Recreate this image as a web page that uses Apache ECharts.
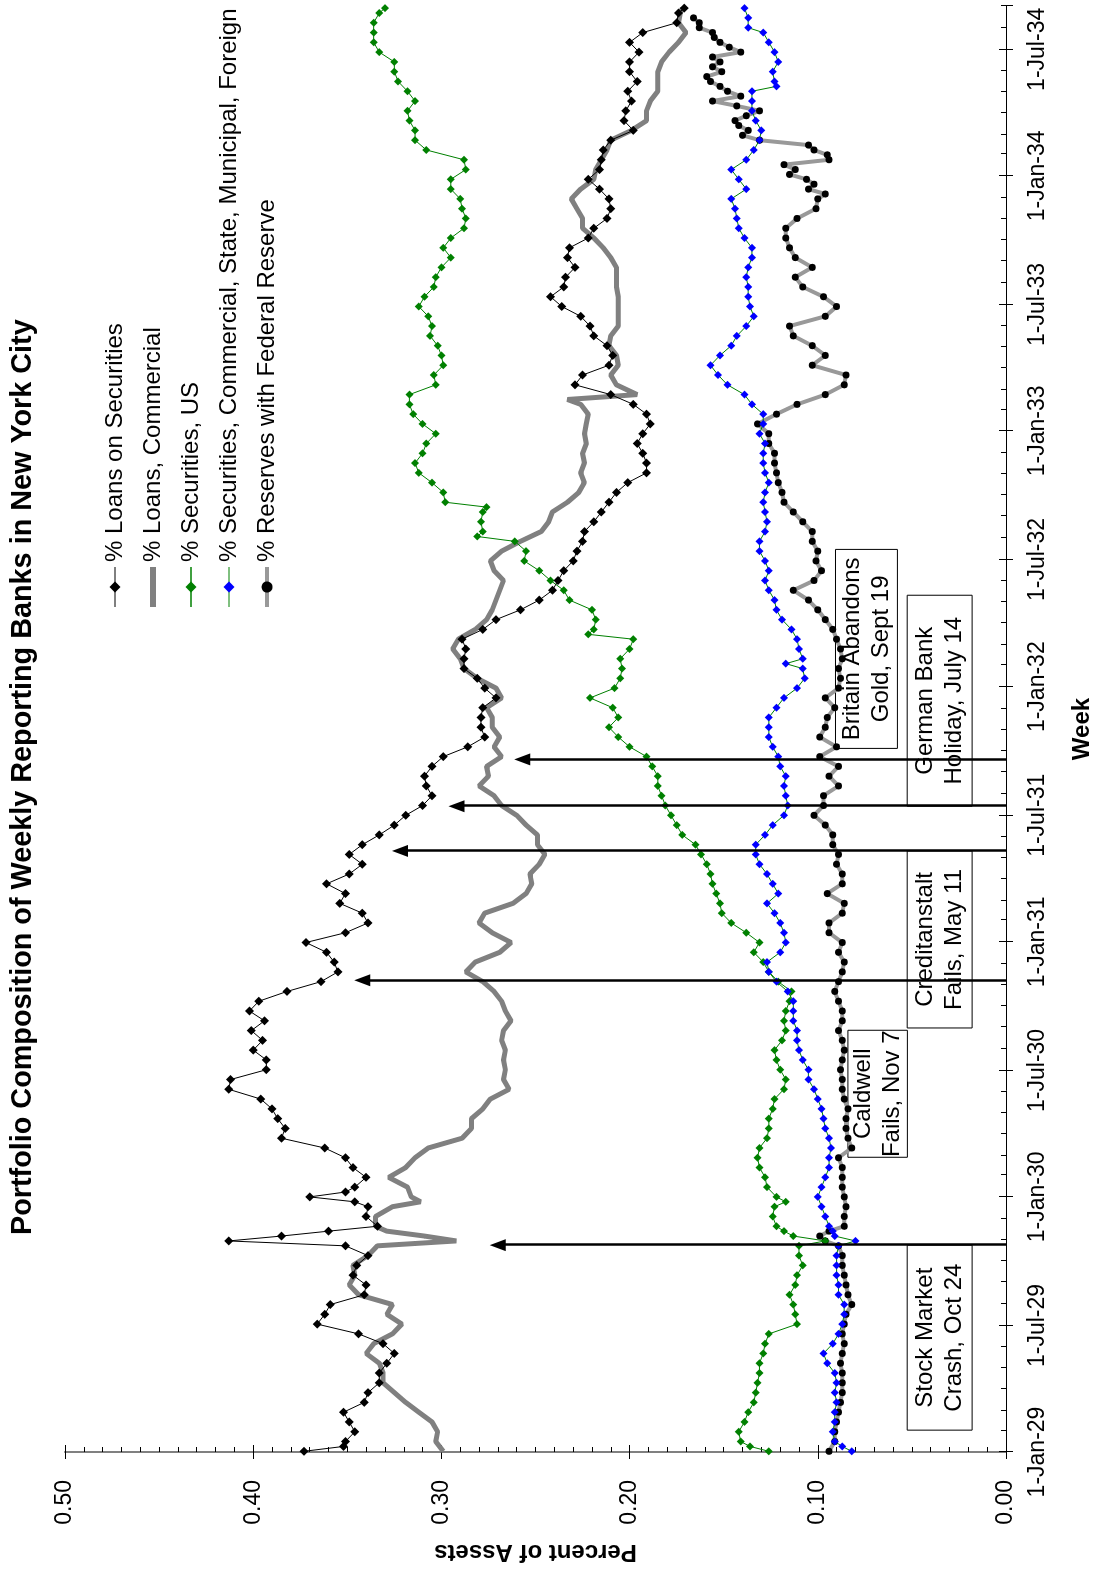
<!DOCTYPE html>
<html>
<head>
<meta charset="utf-8">
<script src="https://cdn.jsdelivr.net/npm/echarts@6/dist/echarts.min.js"></script>
<style>
html,body{margin:0;padding:0;background:#fff;overflow:hidden;}
#chart{position:absolute;left:0;top:0;width:1572px;height:1099px;transform-origin:0 0;transform:translate(0,1572px) rotate(-90deg);}
</style>
</head>
<body>
<div id="chart"></div>
<script>
// weekly reporting banks, NYC — [week number since 2-Jan-1929, share of assets]
var seriesNames = ['% Loans on Securities', '% Loans, Commercial', '% Securities, US',
  '% Securities, Commercial, State, Municipal, Foreign', '% Reserves with Federal Reserve'];

var loansSec = [[0,.373],[1,.352],[2,.351],[4,.346],[6,.349],[8,.352],[10,.341],[12,.339],[14,.333],[16,.333],[18,.329],[20,.325],[22,.331],[24,.344],[26,.366],[28,.362],[30,.359],[32,.341],[34,.340],[36,.347],[38,.345],[40,.339],[42,.351],[43,.413],[44,.385],[45,.360],[46,.334],[48,.340],[50,.339],[51,.346],[52,.370],[53,.351],[54,.346],[56,.340],[58,.347],[60,.351],[62,.362],[64,.385],[66,.383],[68,.387],[70,.390],[72,.396],[74,.413],[76,.412],[78,.393],[80,.393],[82,.400],[84,.395],[86,.401],[88,.394],[90,.402],[92,.397],[94,.382],[96,.364],[98,.355],[100,.357],[102,.361],[104,.372],[106,.351],[108,.339],[110,.342],[112,.354],[114,.351],[116,.361],[118,.349],[120,.342],[122,.349],[124,.342],[126,.333],[128,.325],[130,.319],[132,.310],[134,.305],[136,.308],[138,.309],[140,.305],[142,.299],[144,.286],[146,.277],[148,.279],[150,.279],[152,.278],[154,.271],[156,.277],[158,.281],[160,.288],[162,.288],[164,.287],[166,.289],[168,.278],[170,.271],[172,.258],[174,.248],[176,.241],[178,.238],[180,.235],[182,.230],[184,.228],[186,.225],[188,.224],[190,.219],[192,.215],[194,.211],[196,.207],[198,.201],[200,.191],[202,.191],[204,.193],[206,.196],[208,.193],[210,.189],[212,.191],[214,.198],[216,.210],[218,.229],[220,.225],[222,.211],[224,.209],[226,.212],[228,.219],[230,.221],[232,.226],[234,.236],[236,.242],[238,.235],[240,.234],[242,.229],[244,.233],[246,.232],[248,.222],[250,.219],[252,.212],[254,.210],[256,.211],[258,.216],[260,.222],[262,.216],[264,.215],[266,.214],[268,.210],[270,.198],[272,.203],[274,.202],[276,.199],[278,.201],[280,.196],[282,.200],[284,.200],[286,.195],[288,.200],[290,.193],[292,.175],[294,.174],[295,.171]];

var loansComm = [[0,.299],[2,.303],[4,.302],[6,.305],[8,.312],[10,.319],[12,.325],[14,.331],[16,.331],[18,.333],[20,.340],[22,.336],[24,.326],[26,.321],[28,.329],[30,.326],[32,.344],[34,.349],[36,.346],[38,.347],[40,.339],[42,.334],[43,.292],[44,.309],[45,.329],[46,.335],[48,.335],[50,.326],[51,.311],[52,.316],[54,.318],[56,.328],[58,.319],[60,.314],[62,.307],[64,.289],[66,.284],[68,.284],[70,.278],[72,.274],[74,.264],[76,.267],[78,.266],[80,.267],[82,.266],[84,.268],[86,.267],[88,.263],[90,.266],[92,.268],[94,.272],[96,.278],[98,.287],[100,.282],[102,.269],[104,.263],[106,.273],[108,.280],[110,.277],[112,.262],[114,.255],[116,.252],[118,.253],[120,.248],[122,.245],[124,.249],[126,.249],[128,.255],[130,.260],[132,.268],[134,.272],[136,.280],[138,.275],[140,.276],[142,.268],[144,.272],[146,.269],[148,.273],[150,.273],[152,.276],[154,.268],[156,.271],[158,.281],[160,.288],[162,.290],[164,.294],[166,.291],[168,.282],[170,.276],[172,.273],[174,.271],[176,.269],[178,.267],[180,.272],[182,.274],[184,.268],[186,.258],[188,.247],[190,.243],[192,.241],[194,.233],[196,.227],[198,.224],[200,.226],[202,.224],[204,.225],[206,.223],[208,.224],[210,.223],[212,.222],[214,.226],[215,.233],[216,.196],[218,.207],[220,.210],[222,.206],[224,.207],[226,.211],[228,.210],[230,.206],[232,.206],[234,.206],[236,.206],[238,.207],[240,.207],[242,.207],[244,.210],[246,.214],[248,.219],[250,.225],[252,.225],[254,.228],[256,.231],[258,.226],[260,.219],[262,.218],[264,.215],[266,.212],[268,.210],[270,.199],[272,.191],[274,.191],[276,.189],[278,.185],[280,.185],[282,.185],[284,.183],[286,.179],[288,.174],[290,.170],[292,.174],[294,.173],[295,.172]];

var secUS = [[0,.126],[1,.136],[2,.141],[4,.142],[6,.139],[8,.137],[10,.134],[12,.133],[14,.132],[16,.131],[18,.131],[20,.129],[22,.128],[24,.126],[26,.111],[28,.112],[30,.113],[32,.115],[34,.112],[36,.111],[38,.108],[40,.110],[42,.110],[43,.096],[44,.113],[45,.118],[46,.122],[48,.124],[50,.123],[51,.117],[52,.122],[54,.127],[56,.128],[58,.131],[60,.132],[62,.131],[64,.127],[66,.126],[68,.126],[70,.124],[72,.123],[74,.118],[76,.117],[78,.120],[80,.122],[82,.123],[84,.119],[86,.117],[88,.118],[90,.117],[92,.115],[94,.114],[96,.121],[98,.126],[100,.129],[102,.134],[104,.131],[106,.138],[108,.146],[110,.151],[112,.152],[114,.154],[116,.156],[118,.157],[120,.159],[122,.162],[124,.165],[126,.172],[128,.175],[130,.178],[132,.181],[134,.183],[136,.185],[138,.185],[140,.188],[142,.191],[144,.200],[146,.206],[148,.211],[150,.206],[152,.209],[154,.221],[156,.208],[158,.205],[160,.204],[162,.205],[164,.200],[166,.198],[167,.222],[168,.219],[170,.218],[172,.220],[174,.232],[176,.235],[178,.242],[180,.248],[182,.256],[184,.255],[186,.261],[187,.281],[188,.278],[190,.279],[192,.278],[193,.276],[194,.298],[196,.299],[198,.305],[200,.312],[202,.314],[204,.310],[206,.308],[208,.303],[210,.310],[212,.315],[214,.317],[216,.317],[218,.303],[220,.304],[222,.299],[224,.300],[226,.302],[228,.306],[230,.305],[232,.307],[234,.312],[236,.309],[238,.304],[240,.303],[242,.300],[244,.295],[246,.299],[248,.295],[250,.288],[252,.287],[254,.289],[256,.290],[258,.295],[260,.295],[262,.287],[264,.288],[266,.308],[268,.314],[270,.314],[272,.317],[274,.318],[276,.314],[278,.318],[280,.323],[282,.325],[284,.325],[286,.333],[288,.336],[290,.336],[292,.336],[294,.333],[295,.330]];

var secOther = [[0,.082],[1,.087],[2,.091],[4,.092],[6,.091],[8,.091],[10,.090],[12,.091],[14,.090],[16,.091],[18,.095],[20,.097],[22,.092],[24,.089],[26,.087],[28,.086],[30,.086],[32,.089],[34,.089],[36,.090],[38,.090],[40,.090],[42,.089],[43,.080],[44,.091],[45,.092],[46,.094],[48,.096],[50,.098],[52,.100],[54,.098],[56,.096],[58,.094],[60,.094],[62,.093],[64,.094],[66,.096],[68,.097],[70,.098],[72,.100],[74,.102],[76,.105],[78,.105],[80,.108],[82,.110],[84,.111],[86,.111],[88,.113],[90,.113],[92,.113],[94,.116],[96,.122],[98,.126],[100,.127],[102,.120],[104,.117],[106,.118],[108,.120],[110,.123],[112,.127],[114,.121],[116,.124],[118,.127],[120,.131],[122,.133],[124,.133],[126,.128],[128,.124],[130,.118],[132,.116],[134,.117],[136,.118],[138,.117],[140,.120],[142,.121],[144,.124],[146,.126],[148,.126],[150,.126],[152,.122],[154,.118],[156,.111],[158,.107],[160,.108],[161,.117],[162,.108],[164,.110],[166,.111],[168,.114],[170,.119],[172,.122],[174,.123],[176,.126],[178,.128],[180,.126],[182,.128],[184,.131],[186,.131],[188,.128],[190,.127],[192,.128],[194,.129],[196,.128],[198,.126],[200,.128],[202,.129],[204,.129],[206,.128],[208,.131],[210,.129],[212,.129],[214,.135],[216,.139],[218,.148],[220,.153],[222,.157],[224,.152],[226,.146],[228,.143],[230,.138],[232,.134],[234,.136],[236,.137],[238,.137],[240,.138],[242,.137],[244,.135],[246,.135],[248,.139],[250,.142],[252,.143],[254,.144],[256,.146],[258,.138],[260,.142],[262,.146],[264,.138],[266,.134],[268,.131],[270,.130],[272,.133],[274,.135],[276,.135],[278,.135],[279,.122],[280,.123],[282,.124],[284,.121],[286,.123],[288,.126],[290,.129],[291,.137],[293,.137],[295,.139]];

var reserves = [[0,.094],[2,.091],[4,.091],[6,.090],[8,.089],[10,.088],[12,.087],[14,.087],[16,.087],[18,.088],[20,.087],[22,.086],[24,.087],[26,.086],[28,.085],[30,.082],[32,.084],[34,.085],[36,.086],[38,.087],[40,.087],[42,.089],[43,.096],[44,.099],[45,.094],[46,.086],[48,.086],[50,.085],[52,.086],[54,.087],[56,.087],[58,.087],[60,.089],[62,.082],[64,.084],[66,.085],[68,.085],[70,.084],[72,.086],[74,.087],[76,.087],[78,.088],[80,.087],[82,.086],[84,.087],[86,.089],[88,.087],[90,.087],[92,.089],[94,.091],[96,.089],[98,.087],[100,.086],[102,.089],[104,.087],[106,.094],[108,.094],[110,.087],[112,.086],[114,.095],[116,.087],[118,.087],[120,.090],[122,.089],[124,.092],[126,.092],[128,.096],[130,.102],[132,.097],[134,.097],[136,.089],[138,.094],[140,.089],[142,.099],[144,.090],[146,.099],[148,.096],[150,.095],[152,.091],[154,.096],[156,.089],[158,.088],[160,.089],[162,.087],[164,.088],[166,.090],[168,.092],[170,.096],[172,.100],[174,.105],[176,.113],[178,.102],[180,.098],[182,.101],[184,.100],[186,.103],[188,.103],[190,.108],[192,.113],[194,.118],[196,.119],[198,.121],[200,.122],[202,.123],[204,.123],[206,.126],[208,.126],[210,.132],[212,.122],[214,.111],[216,.096],[218,.086],[220,.085],[222,.103],[224,.096],[226,.103],[228,.113],[230,.115],[232,.096],[234,.090],[236,.097],[238,.108],[240,.112],[242,.103],[244,.112],[246,.115],[248,.117],[250,.117],[252,.111],[254,.101],[256,.100],[257,.096],[258,.105],[259,.102],[260,.106],[261,.115],[262,.112],[263,.118],[264,.094],[265,.095],[266,.102],[267,.105],[268,.131],[269,.140],[270,.137],[271,.142],[272,.144],[273,.138],[274,.131],[275,.143],[276,.156],[277,.141],[278,.148],[279,.152],[280,.157],[281,.159],[282,.151],[283,.156],[284,.152],[285,.156],[286,.141],[287,.147],[288,.152],[289,.155],[290,.156],[291,.163],[292,.163],[293,.166]];

// events: date, arrow tip value, box text
var eventDates = ['1929-10-24', '1930-11-07', '1931-05-11', '1931-07-14', '1931-09-19'];
var eventTips = [0.270, 0.342, 0.322, 0.292, 0.257];
var eventLabels = ['Stock Market\nCrash, Oct 24', 'Caldwell\nFails, Nov 7', 'Creditanstalt\nFails, May 11',
  'German Bank\nHoliday, July 14', 'Britain Abandons\nGold, Sept 19'];

var valueTicks = [0, 0.1, 0.2, 0.3, 0.4, 0.5];
var monthNames = ['Jan','Feb','Mar','Apr','May','Jun','Jul','Aug','Sep','Oct','Nov','Dec'];

var FONT = "'Liberation Sans', Arial, sans-serif";
var DAY = 86400000;
var xMin = new Date(1929, 0, 1).getTime();
var xMax = new Date(1934, 8, 1).getTime();

function weekTime(w) { return new Date(1929, 0, 2 + 7 * w).getTime(); }
function toData(arr) { return arr.map(function (p) { return [weekTime(p[0]), p[1]]; }); }
function dayTime(s) { var a = s.split('-'); return new Date(+a[0], +a[1] - 1, +a[2]).getTime(); }
function dateLabel(v) {
  var d = new Date(v);
  if (d.getDate() !== 1 || d.getMonth() % 6 !== 0) return '';
  return '1-' + monthNames[d.getMonth()] + '-' + String(d.getFullYear()).slice(2);
}

var chart = echarts.init(document.getElementById('chart'), null, { renderer: 'canvas' });

var arrowLines = eventDates.map(function (d, i) {
  return [{ coord: [dayTime(d), 0] }, { coord: [dayTime(d), eventTips[i]] }];
});

var option = {
  animation: false,
  backgroundColor: '#fff',
  textStyle: { fontFamily: FONT, color: '#000' },
  title: {
    text: 'Portfolio Composition of Weekly Reporting Banks in New York City',
    left: 332, top: 4,
    textStyle: { fontFamily: FONT, fontSize: 28.8, fontWeight: 'bold', color: '#000' }
  },
  legend: {
    orient: 'vertical', left: 957, top: 98,
    itemWidth: 40, itemHeight: 14, itemGap: 14,
    selectedMode: false,
    textStyle: { fontFamily: FONT, fontSize: 24, color: '#000' },
    data: [
      { name: seriesNames[0], lineStyle: { width: 1 } },
      { name: seriesNames[1], itemStyle: { opacity: 0 }, lineStyle: { width: 6 } },   // plain thick line, no marker
      { name: seriesNames[2], lineStyle: { width: 1.5 } },
      { name: seriesNames[3], lineStyle: { width: 1 } },
      { name: seriesNames[4], lineStyle: { width: 4 } }
    ]
  },
  grid: { left: 119, right: 6, top: 65, bottom: 90 },
  xAxis: [{
    type: 'time', min: xMin, max: xMax, position: 'bottom',
    splitNumber: 12, minInterval: 182 * DAY, maxInterval: 184 * DAY,
    axisLine: { show: true, onZero: false, lineStyle: { color: '#000', width: 1 } },
    axisTick: { show: true, inside: true, length: 7, lineStyle: { color: '#000' } },
    axisLabel: { formatter: dateLabel, margin: 20, fontSize: 23, color: '#000', fontFamily: FONT, hideOverlap: false },
    splitLine: { show: false },
    name: 'Week', nameLocation: 'middle', nameGap: 64,
    nameTextStyle: { fontFamily: FONT, fontSize: 24, fontWeight: 'bold', color: '#000' }
  }, {
    type: 'time', min: xMin, max: xMax, position: 'bottom',
    splitNumber: 70, minInterval: 28 * DAY, maxInterval: 31 * DAY,
    axisLine: { show: false, onZero: false },
    axisTick: { show: true, inside: true, length: 5, lineStyle: { color: '#000' } },
    axisLabel: { show: false }, splitLine: { show: false }
  }, {
    type: 'time', min: xMin, max: xMax, position: 'bottom',
    splitNumber: 12, minInterval: 182 * DAY, maxInterval: 184 * DAY,
    axisLine: { show: false, onZero: false },
    axisTick: { show: true, inside: false, length: 7, lineStyle: { color: '#000' } },
    axisLabel: { show: false }, splitLine: { show: false }
  }],
  yAxis: [{
    type: 'value', min: valueTicks[0], max: valueTicks[valueTicks.length - 1], interval: 0.1, position: 'left',
    axisLine: { show: true, lineStyle: { color: '#808080', width: 2 } },
    axisTick: { show: true, inside: true, length: 7, lineStyle: { color: '#000' } },
    minorTick: { show: true, splitNumber: 10, length: 5, lineStyle: { color: '#000' } },
    splitLine: { show: false },
    axisLabel: { formatter: function (v) { return v.toFixed(2); }, margin: 28, fontSize: 23, color: '#000', fontFamily: FONT },
    name: 'Percent of Assets', nameLocation: 'middle', nameRotate: 90, nameGap: 88,
    nameTextStyle: { fontFamily: FONT, fontSize: 24, fontWeight: 'bold', color: '#000' }
  }, {
    type: 'value', min: 0, max: 0.5, interval: 0.1, position: 'left',
    axisLine: { show: false },
    axisTick: { show: true, inside: false, length: 7, lineStyle: { color: '#000' } },
    axisLabel: { show: false }, splitLine: { show: false }
  }],
  series: [{
    name: seriesNames[0], type: 'line', z: 5, data: toData(loansSec),
    symbol: 'diamond', symbolSize: 9, showAllSymbol: true,
    lineStyle: { color: '#000', width: 1 }, itemStyle: { color: '#000' },
    markLine: {
      silent: true, symbol: ['none', 'triangle'], symbolSize: [12, 16],
      lineStyle: { color: '#000', width: 2.5, type: 'solid' },
      label: { show: false }, emphasis: { disabled: true },
      data: arrowLines
    }
  }, {
    name: seriesNames[1], type: 'line', z: 2, data: toData(loansComm),
    showSymbol: false, symbol: 'none',
    lineStyle: { color: '#808080', width: 5 }, itemStyle: { color: '#808080' }
  }, {
    name: seriesNames[2], type: 'line', z: 4, data: toData(secUS),
    symbol: 'diamond', symbolSize: 8, showAllSymbol: true,
    lineStyle: { color: '#008000', width: 1 }, itemStyle: { color: '#008000' }
  }, {
    name: seriesNames[3], type: 'line', z: 4, data: toData(secOther),
    symbol: 'diamond', symbolSize: 8, showAllSymbol: true,
    lineStyle: { color: '#008000', width: 1 }, itemStyle: { color: '#0000ff' }
  }, {
    name: seriesNames[4], type: 'line', z: 3, data: toData(reserves),
    symbol: 'circle', symbolSize: 7, showAllSymbol: true,
    lineStyle: { color: '#999999', width: 4 }, itemStyle: { color: '#000' }
  }]
};

chart.setOption(option);

// annotation boxes, placed next to the arrows (pixel offsets from the arrow line)
var boxLayout = [
  { dx: -185, w: 185, top: 0.0525, bottom: 0.018 },
  { dx: -177, w: 127, top: 0.084, bottom: 0.0524 },
  { dx: -177, w: 177, top: 0.0525, bottom: 0.018 },
  { dx: 0, w: 211, top: 0.0525, bottom: 0.018 },
  { dx: 11, w: 199, top: 0.0906, bottom: 0.0577 }
];
var graphics = eventDates.map(function (d, i) {
  var L = boxLayout[i];
  var pTop = chart.convertToPixel({ xAxisIndex: 0, yAxisIndex: 0 }, [dayTime(d), L.top]);
  var pBot = chart.convertToPixel({ xAxisIndex: 0, yAxisIndex: 0 }, [dayTime(d), L.bottom]);
  var x0 = pTop[0] + L.dx, h = pBot[1] - pTop[1];
  return {
    type: 'group', z: 10,
    children: [{
      type: 'rect', shape: { x: x0, y: pTop[1], width: L.w, height: h },
      style: { fill: '#fff', stroke: '#000', lineWidth: 1 }
    }, {
      type: 'text', x: x0 + L.w / 2, y: pTop[1] + h / 2,
      style: { text: eventLabels[i], fill: '#000', font: '24px ' + FONT, align: 'center', verticalAlign: 'middle', lineHeight: 29 }
    }]
  };
});
chart.setOption({ graphic: graphics });
</script>
</body>
</html>
